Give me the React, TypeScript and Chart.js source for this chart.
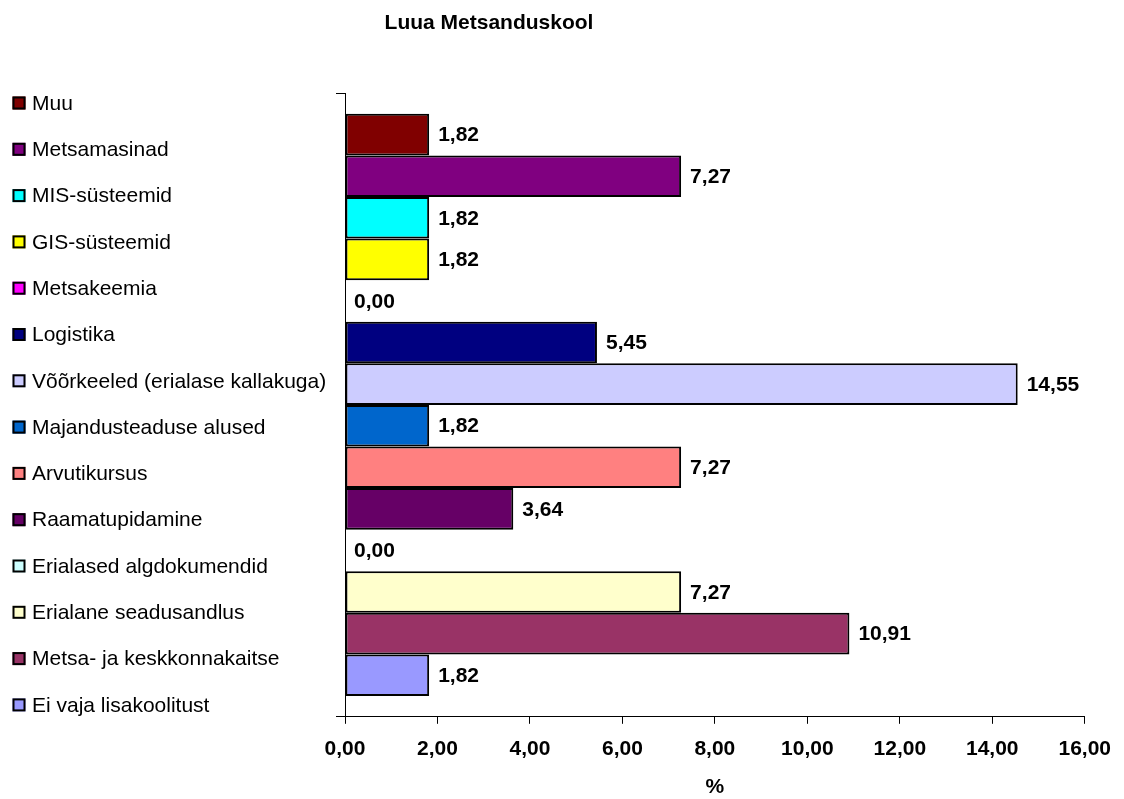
import React, { useEffect, useRef } from "react";
import { Chart, registerables } from "chart.js";

Chart.register(...registerables);

const chartTitle = "Luua Metsanduskool";
const axisTitle = "%";
const categories = [""];
const seriesNames = [
  "Muu",
  "Metsamasinad",
  "MIS-süsteemid",
  "GIS-süsteemid",
  "Metsakeemia",
  "Logistika",
  "Võõrkeeled (erialase kallakuga)",
  "Majandusteaduse alused",
  "Arvutikursus",
  "Raamatupidamine",
  "Erialased algdokumendid",
  "Erialane seadusandlus",
  "Metsa- ja keskkonnakaitse",
  "Ei vaja lisakoolitust",
];
const seriesValues = [1.82, 7.27, 1.82, 1.82, 0.0, 5.45, 14.55, 1.82, 7.27, 3.64, 0.0, 7.27, 10.91, 1.82];
const seriesColors = [
  "#800000",
  "#800080",
  "#00FFFF",
  "#FFFF00",
  "#FF00FF",
  "#000080",
  "#CCCCFF",
  "#0066CC",
  "#FF8080",
  "#660066",
  "#CCFFFF",
  "#FFFFCC",
  "#993366",
  "#9999FF",
];
const xMin = 0;
const xMax = 16;
const xStep = 2;

const FONT = "'Liberation Sans', Arial, sans-serif";
const fmt = (v: number) => v.toFixed(2).replace(".", ",");

const decorPlugin = {
  id: "decor",
  afterDraw(chart: any) {
    const ctx = chart.ctx;
    ctx.save();
    // title
    ctx.fillStyle = "#000";
    ctx.font = `bold 21px ${FONT}`;
    ctx.textAlign = "center";
    ctx.textBaseline = "middle";
    ctx.fillText(chartTitle, 489, 23);

    // value labels
    ctx.textAlign = "left";
    chart.data.datasets.forEach((ds: any, i: number) => {
      const meta = chart.getDatasetMeta(i);
      const el = meta.data[0];
      if (!el) return;
      ctx.fillText(fmt(ds.data[0]), el.x + 9, el.y + 1);
    });

    // legend
    const top = 103;
    const step = 46.3;
    ctx.font = `21px ${FONT}`;
    chart.data.datasets.forEach((ds: any, i: number) => {
      const cy = top + i * step;
      ctx.fillStyle = ds.backgroundColor;
      ctx.fillRect(12.5, cy - 6.5, 13, 13);
      ctx.strokeStyle = "#000";
      ctx.lineWidth = 2;
      ctx.strokeRect(13.5, cy - 5.5, 11, 11);
      ctx.fillStyle = "#000";
      ctx.fillText(ds.label, 32, cy + 1);
    });
    ctx.restore();
  },
};

export default function App() {
  const ref = useRef<HTMLCanvasElement | null>(null);
  useEffect(() => {
    if (!ref.current) return;
    const chart = new Chart(ref.current, {
      type: "bar",
      data: {
        labels: categories,
        datasets: seriesNames.map((name, i) => ({
          label: name,
          data: [seriesValues[i]],
          backgroundColor: seriesColors[i],
          borderColor: "#000",
          borderWidth: 2,
          borderSkipped: false,
          categoryPercentage: 14 / 15,
          barPercentage: 1,
        })),
      },
      options: {
        indexAxis: "y",
        animation: false,
        responsive: true,
        maintainAspectRatio: false,
        layout: { padding: { left: 336, top: 93, right: 39, bottom: 1 } },
        plugins: {
          legend: { display: false },
          title: { display: false },
          tooltip: { enabled: false },
        },
        scales: {
          x: {
            type: "linear",
            min: xMin,
            max: xMax,
            ticks: {
              stepSize: xStep,
              padding: 13,
              color: "#000",
              font: { family: FONT, size: 21, weight: "bold" },
              callback: (v: any) => fmt(Number(v)),
            },
            grid: {
              display: true,
              drawOnChartArea: false,
              drawTicks: true,
              tickLength: 7,
              color: "#000",
            },
            border: { display: true, color: "#000", width: 1 },
            title: {
              display: true,
              text: axisTitle,
              color: "#000",
              font: { family: FONT, size: 21, weight: "bold", lineHeight: 1 },
              padding: { top: 2, bottom: 0 },
            },
          },
          y: {
            type: "category",
            offset: true,
            ticks: { display: false },
            grid: {
              display: true,
              offset: true,
              drawOnChartArea: false,
              drawTicks: true,
              tickLength: 9,
              color: "#000",
            },
            border: { display: true, color: "#000", width: 1 },
          },
        },
      },
      plugins: [decorPlugin],
    } as any);
    return () => chart.destroy();
  }, []);
  return (
    <div style={{ position: "fixed", left: 0, top: 0, width: 1124, height: 799, background: "#fff" }}>
      <canvas ref={ref} />
    </div>
  );
}
